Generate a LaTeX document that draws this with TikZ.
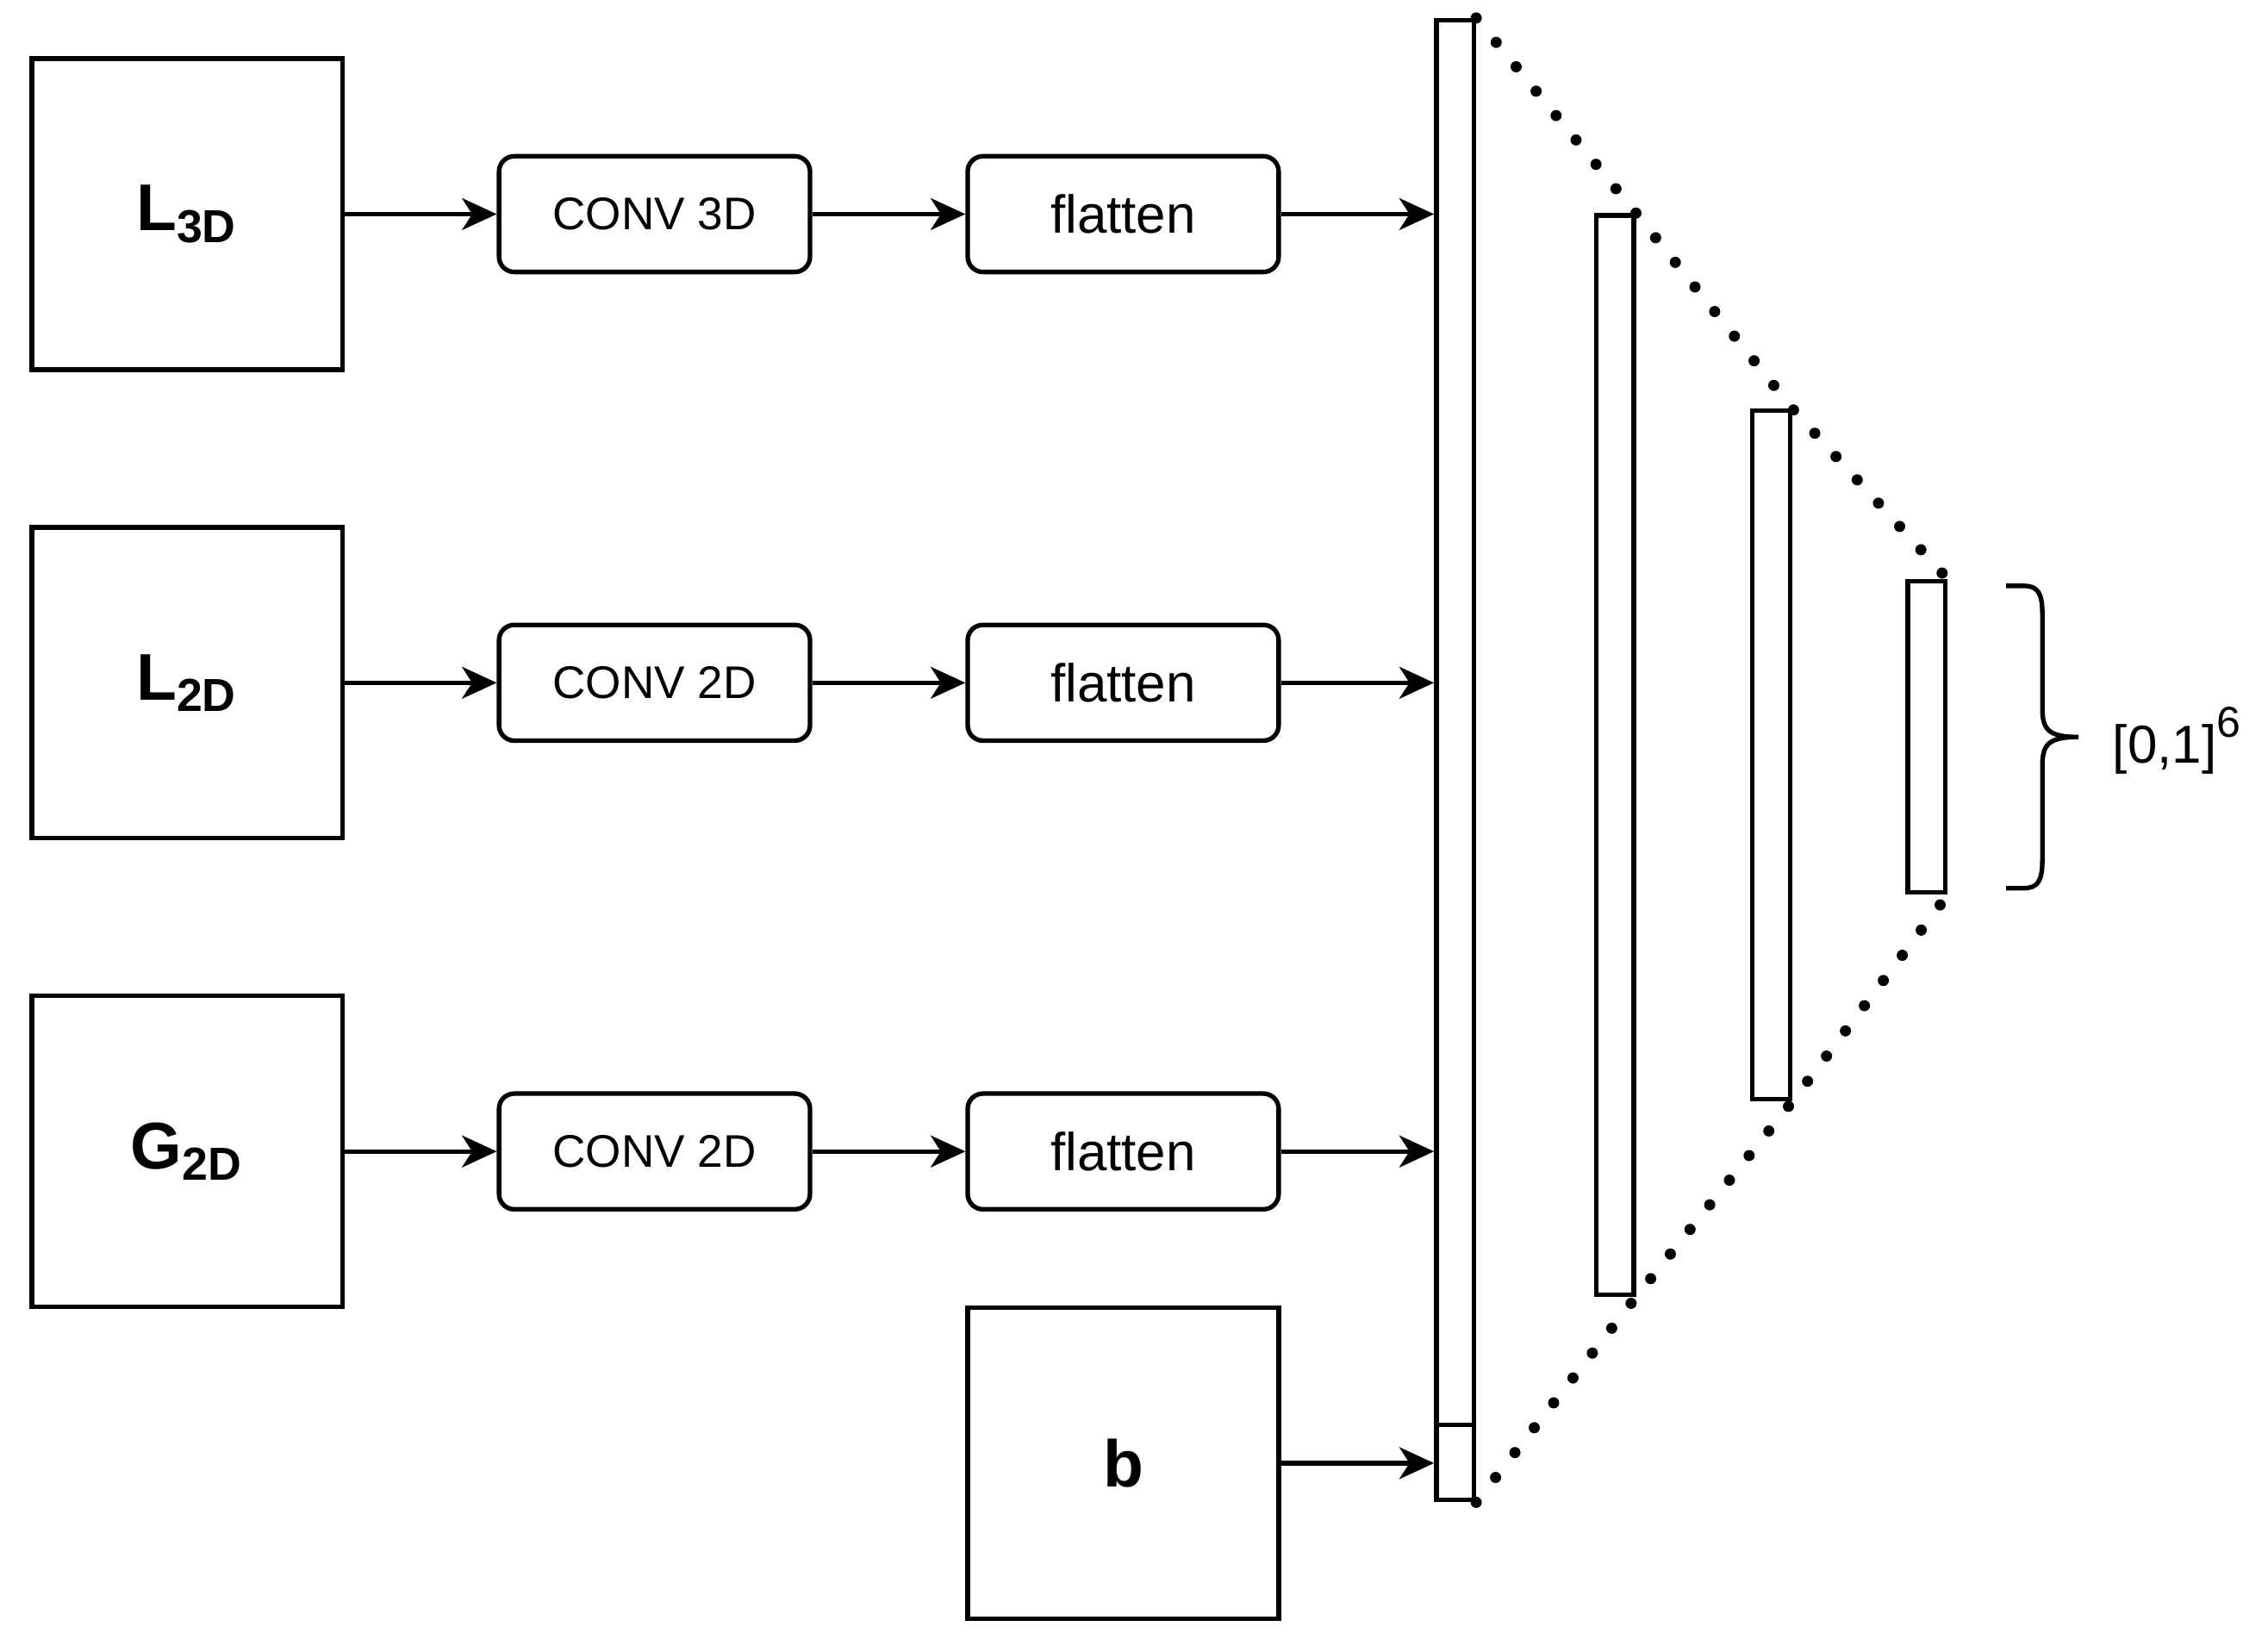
\documentclass[tikz,border=0pt]{standalone}
\usepackage{fontspec}
\setmainfont{Liberation Sans}
\usepackage{tikz}
\usetikzlibrary{arrows.meta, positioning, calc}
\tikzset{
  inbox/.style={
    rectangle, draw, line width=0.9pt,
    minimum width=2.15cm, minimum height=2.15cm,
    font=\fontsize{13}{15}\selectfont\bfseries
  },
  convbox/.style={
    rectangle, rounded corners=3pt, draw, line width=0.9pt,
    minimum width=2.15cm, minimum height=0.8cm,
    font=\fontsize{9}{11}\selectfont
  },
  flatbox/.style={convbox, font=\fontsize{10.5}{12}\selectfont},
  layer/.style={rectangle, draw, line width=0.9pt, minimum width=0.26cm, inner sep=0pt},
  arrow/.style={-{Stealth[length=0.24cm, width=0.22cm, inset=0.07cm]}, line width=0.9pt},
  dotline/.style={line width=2.2pt, line cap=round, dash pattern=on 0pt off 6.2pt}
}

\begin{document}
\begin{tikzpicture}
          \useasboundingbox (0,0) rectangle (15.68,-11.33);

          % Draw input blocks
          \node[inbox] (l3d) at (1.295,-1.48) {L\textsubscript{3D}};
          \node[inbox] (l2d) at (1.295,-4.72) {L\textsubscript{2D}};
          \node[inbox] (g2d) at (1.295,-7.96) {G\textsubscript{2D}};
          \node[inbox] (bvec) at (7.765,-10.115) {b};

          % Draw conv and flatten blocks
          \node[convbox] (conv1) at (4.525,-1.48) {CONV 3D};
          \node[convbox] (conv2) at (4.525,-4.72) {CONV 2D};
          \node[convbox] (conv3) at (4.525,-7.96) {CONV 2D};
          \node[flatbox] (flat1) at (7.765,-1.48) {flatten};
          \node[flatbox] (flat2) at (7.765,-4.72) {flatten};
          \node[flatbox] (flat3) at (7.765,-7.96) {flatten};

          % Draw dense layers
          \node[layer, minimum height=9.71cm] (fc1) at (10.06,-4.995) {};
          \node[layer, minimum height=0.52cm] (bias) at (10.06,-10.11) {};
          \node[layer, minimum height=7.46cm] (fc2) at (11.165,-5.22) {};
          \node[layer, minimum height=4.76cm] (fc3) at (12.245,-5.22) {};
          \node[layer, minimum height=2.15cm] (fc4) at (13.32,-5.095) {};

          % Draw arrows
          \foreach \inp/\conv/\flat in {l3d/conv1/flat1, l2d/conv2/flat2, g2d/conv3/flat3} {
            \draw[arrow] (\inp.east) -- (\conv.west);
            \draw[arrow] (\conv.east) -- (\flat.west);
            \draw[arrow] (\flat.east) -- (\flat.east -| fc1.west);
          }
          \draw[arrow] (bvec.east) -- (bvec.east -| bias.west);

          % Draw dotted outline
          \draw[dotline] (fc1.north east) -- (fc2.north east) -- (fc3.north east) -- (fc4.north east);
          \draw[dotline] (bias.south east) -- (fc2.south east) -- (fc3.south east) -- (fc4.south east);

          % Draw brace and output range
          \draw[line width=0.9pt] (13.87,-4.05) -- (13.99,-4.05)
            .. controls (14.09,-4.05) and (14.12,-4.10) .. (14.12,-4.25) -- (14.12,-4.90)
            .. controls (14.12,-5.05) and (14.17,-5.095) .. (14.37,-5.095)
            .. controls (14.17,-5.095) and (14.12,-5.14) .. (14.12,-5.29) -- (14.12,-5.94)
            .. controls (14.12,-6.09) and (14.09,-6.14) .. (13.99,-6.14) -- (13.87,-6.14);
          \node[anchor=west, inner sep=0pt, font=\fontsize{10.5}{12}\selectfont] (range) at (14.6,-5.12) {[0,1]\raisebox{0.9ex}{\fontsize{8.5}{10}\selectfont 6}};
        \end{tikzpicture}
\end{document}
